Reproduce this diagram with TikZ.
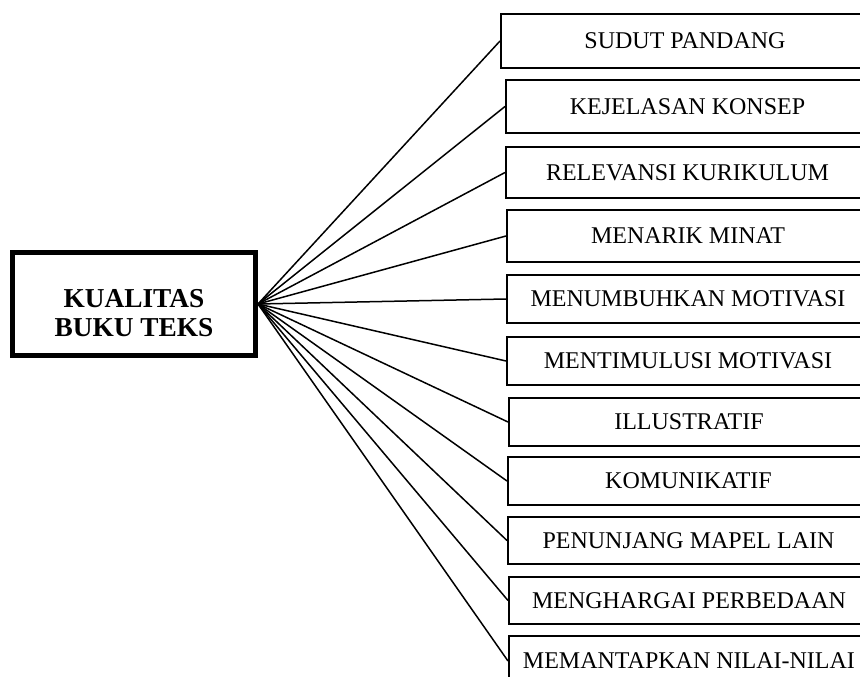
\documentclass[tikz,border=0pt]{standalone}
\usepackage{fontspec}
\setmainfont{Liberation Serif}
\definecolor{dialinecolor}{rgb}{0.000000, 0.000000, 0.000000}
\newlength{\du}
\setlength{\du}{0.75pt}

\begin{document}
\begin{tikzpicture}[
  kotak/.style={draw=dialinecolor, line width=2\du, inner sep=0pt, anchor=north west, font=\fontsize{18}{21}\selectfont},
  utama/.style={draw=dialinecolor, line width=5\du, inner sep=0pt},
  judul/.style={inner sep=0pt, align=center, font=\fontsize{20.5}{21.5}\selectfont\bfseries},
  garis/.style={draw=dialinecolor, line width=1.5\du}]
\pgftransformxscale{1.000000}
\pgftransformyscale{-1.000000}
\useasboundingbox (0\du,0\du) rectangle (860\du,677\du);
\clip (0\du,0\du) rectangle (860\du,677\du);
% setfont left to latex
\node[utama, minimum width=243\du, minimum height=103\du] (kualitas) at (134\du,304\du) {};
\node[judul] (judulteks) at (134\du,313\du) {KUALITAS\\BUKU TEKS};
% setfont left to latex
\node[kotak, minimum width=368\du, minimum height=54\du] (sudut) at (500\du,13\du) {SUDUT PANDANG};
\node[kotak, minimum width=363\du, minimum height=53\du] (konsep) at (505\du,79\du) {KEJELASAN KONSEP};
\node[kotak, minimum width=363\du, minimum height=51\du] (kurikulum) at (505\du,146\du) {RELEVANSI KURIKULUM};
\node[kotak, minimum width=362\du, minimum height=52\du] (minat) at (506\du,209\du) {MENARIK MINAT};
\node[kotak, minimum width=362\du, minimum height=48\du] (tumbuh) at (506\du,274\du) {MENUMBUHKAN MOTIVASI};
\node[kotak, minimum width=362\du, minimum height=48\du] (stimulus) at (506\du,336\du) {MENTIMULUSI MOTIVASI};
\node[kotak, minimum width=360\du, minimum height=48\du] (ilustratif) at (508\du,397\du) {ILLUSTRATIF};
\node[kotak, minimum width=361\du, minimum height=48\du] (komunikatif) at (507\du,456\du) {KOMUNIKATIF};
\node[kotak, minimum width=361\du, minimum height=47\du] (mapel) at (507\du,516\du) {PENUNJANG MAPEL LAIN};
\node[kotak, minimum width=360\du, minimum height=47\du] (beda) at (508\du,576\du) {MENGHARGAI PERBEDAAN};
\node[kotak, minimum width=360\du, minimum height=50\du] (nilai) at (508\du,635\du) {MEMANTAPKAN NILAI-NILAI};
\draw[garis] (kualitas.east)--(sudut.west);
\draw[garis] (kualitas.east)--(konsep.west);
\draw[garis] (kualitas.east)--(kurikulum.west);
\draw[garis] (kualitas.east)--(minat.west);
\draw[garis] (kualitas.east)--(tumbuh.west);
\draw[garis] (kualitas.east)--(stimulus.west);
\draw[garis] (kualitas.east)--(ilustratif.west);
\draw[garis] (kualitas.east)--(komunikatif.west);
\draw[garis] (kualitas.east)--(mapel.west);
\draw[garis] (kualitas.east)--(beda.west);
\draw[garis] (kualitas.east)--(nilai.west);
\end{tikzpicture}
\end{document}
